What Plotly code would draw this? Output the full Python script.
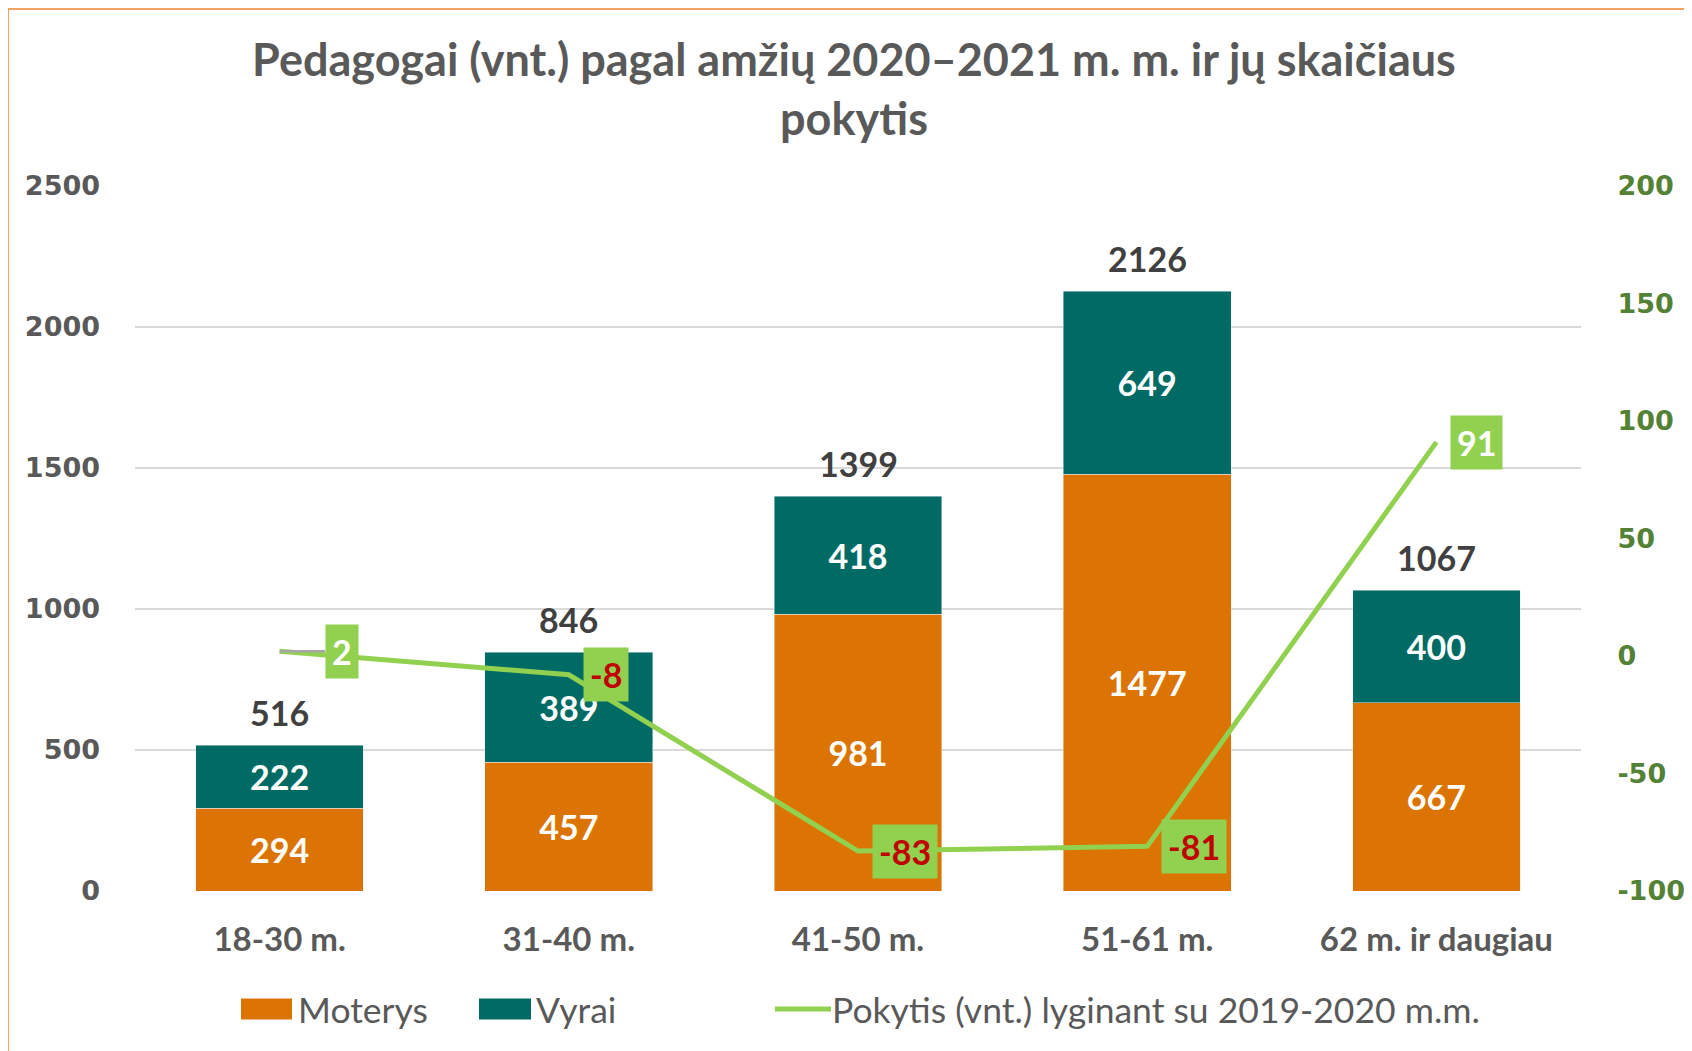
import plotly.graph_objects as go

categories = ["18-30 m.", "31-40 m.", "41-50 m.", "51-61 m.", "62 m. ir daugiau"]
moterys = [294, 457, 981, 1477, 667]
vyrai = [222, 389, 418, 649, 400]
pokytis = [2, -8, -83, -81, 91]
left_ticks = [0, 500, 1000, 1500, 2000, 2500]
right_ticks = [-100, -50, 0, 50, 100, 150, 200]
right_tick_text = ["-100", "-50", "0", "50", "100", "150", "200"]

totals = [m + v for m, v in zip(moterys, vyrai)]

# page body has an 8px margin; compensate so the picture lands where the reference is
OFF = 8
W, H = 1692 - OFF, 1051 - OFF
L, R, T, B = 135 - OFF, 1581 - OFF, 186 - OFF, 891 - OFF

def px_x(X):
    return (X - OFF - L) / (R - L)

def px_y(Y):
    return (B - (Y - OFF)) / (B - T)

ORANGE = "#DB7402"
TEAL = "#006A65"
GREEN = "#92D050"
GREY = "#595959"
FONT = "Lato"

fig = go.Figure()
fig.add_trace(go.Bar(
    x=categories, y=moterys, name="Moterys", marker_color=ORANGE,
    texttemplate="%{y}", textposition="inside", insidetextanchor="middle",
    textangle=0, textfont=dict(family=FONT, size=34, color="white", weight="bold"),
))
fig.add_trace(go.Bar(
    x=categories, y=vyrai, name="Vyrai", marker_color=TEAL,
    texttemplate="%{y}", textposition="inside", insidetextanchor="middle",
    textangle=0, textfont=dict(family=FONT, size=34, color="white", weight="bold"),
))
fig.add_trace(go.Scatter(
    x=categories, y=pokytis, name="Pokytis (vnt.) lyginant su 2019-2020 m.m.",
    yaxis="y2", mode="lines", line=dict(color=GREEN, width=5),
))

annotations = []
# totals above bars
for c, t in zip(categories, totals):
    annotations.append(dict(
        x=c, y=t, xref="x", yref="y", text=str(t), showarrow=False,
        yanchor="bottom", yshift=10,
        font=dict(family=FONT, size=34, color="#404040", weight="bold"),
    ))
# change labels
for i, (c, p) in enumerate(zip(categories, pokytis)):
    col = "white" if p > 0 else "#C00000"
    if i == 0:
        annotations.append(dict(
            x=c, y=p, xref="x", yref="y2", text=str(p), showarrow=True,
            ax=62, ay=0, arrowhead=0, arrowwidth=2.5, arrowcolor="#A6A6A6",
            standoff=0, bgcolor=GREEN, borderpad=6,
            font=dict(family=FONT, size=34, color=col, weight="bold"),
        ))
    else:
        annotations.append(dict(
            x=c, y=p, xref="x", yref="y2", text=str(p), showarrow=False,
            xanchor="left", xshift=14, bgcolor=GREEN, borderpad=6,
            font=dict(family=FONT, size=34, color=col, weight="bold"),
        ))

# custom legend
legend_y = px_y(1009)
shapes = [
    dict(type="rect", xref="paper", yref="paper",
         x0=px_x(241), x1=px_x(292), y0=px_y(1019.5), y1=px_y(998.5),
         fillcolor=ORANGE, line=dict(width=0)),
    dict(type="rect", xref="paper", yref="paper",
         x0=px_x(479), x1=px_x(531), y0=px_y(1019.5), y1=px_y(998.5),
         fillcolor=TEAL, line=dict(width=0)),
    dict(type="line", xref="paper", yref="paper",
         x0=px_x(775), x1=px_x(831), y0=legend_y, y1=legend_y,
         line=dict(color=GREEN, width=5)),
    # outer frame
    dict(type="rect", xref="paper", yref="paper",
         x0=px_x(8), x1=px_x(1720), y0=px_y(1080), y1=px_y(9),
         line=dict(color="#F4A35E", width=2), fillcolor="rgba(0,0,0,0)", layer="below"),
]
for xpos, txt in [(296, "Moterys"), (534, "Vyrai"), (830, "Pokytis (vnt.) lyginant su 2019-2020 m.m.")]:
    annotations.append(dict(
        x=px_x(xpos), y=legend_y, xref="paper", yref="paper", text=txt,
        showarrow=False, xanchor="left", yanchor="middle",
        font=dict(family=FONT, size=35.5, color=GREY),
    ))

fig.update_layout(
    width=W, height=H,
    margin=dict(l=L, r=W - R, t=T, b=H - B, autoexpand=False),
    paper_bgcolor="white", plot_bgcolor="white",
    barmode="stack", bargap=0.42, showlegend=False,
    title=dict(
        text="Pedagogai (vnt.) pagal amžių 2020–2021 m. m. ir jų skaičiaus<br>pokytis",
        x=(854 - OFF) / W, xanchor="center", xref="container",
        y=1 - 68 / H, yanchor="top", yref="container",
        font=dict(family=FONT, size=45, color=GREY, weight="bold"),
    ),
    xaxis=dict(
        tickfont=dict(family=FONT, size=33, color=GREY, weight="bold"),
        ticklabelstandoff=26, showline=False, showgrid=False, automargin=False,
    ),
    yaxis=dict(
        range=[0, 2500], tickvals=left_ticks, showgrid=True,
        gridcolor="#D9D9D9", gridwidth=2, zeroline=False, automargin=False,
        tickfont=dict(family="DejaVu Sans", size=27, color=GREY, weight="bold"),
        ticklabelstandoff=34,
    ),
    yaxis2=dict(
        range=[-100, 200], tickvals=right_ticks, ticktext=right_tick_text,
        overlaying="y", side="right", automargin=False,
        showgrid=False, zeroline=False,
        ticks="outside", ticklen=30, tickcolor="rgba(0,0,0,0)",
        tickfont=dict(family="DejaVu Sans", size=27, color="#538135", weight="bold"),
    ),
    annotations=annotations, shapes=shapes,
)

fig.write_html("out.html")
